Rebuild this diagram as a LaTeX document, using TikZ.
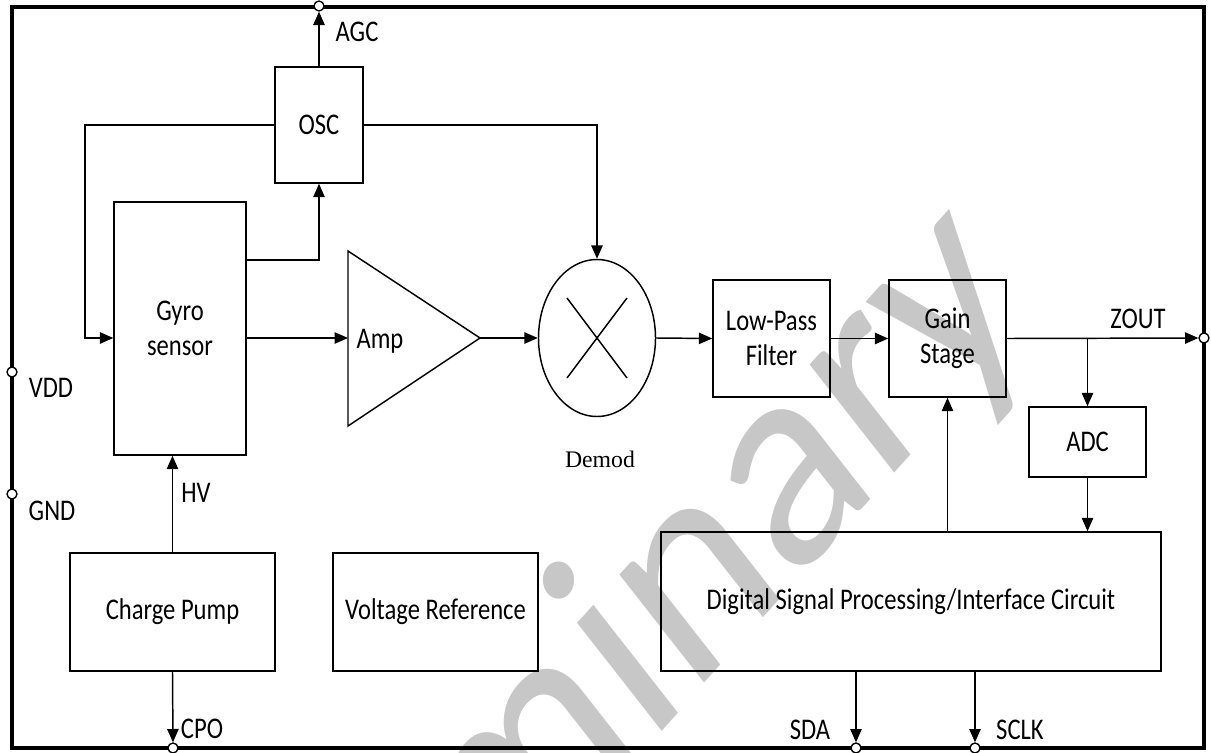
\documentclass[tikz,border=0pt]{standalone}
\usepackage{fontspec}
\setmainfont{Carlito}[FakeStretch=0.82]
\newfontfamily\wmfont{Carlito}
\newfontfamily\demodfont{Liberation Serif}
\usetikzlibrary{arrows.meta,shapes.geometric}
\begin{document}
\begin{tikzpicture}[x=0.75pt,y=-0.75pt,
  blk/.style={draw,line width=1.1pt,inner sep=0pt,align=center,
    font=\fontsize{22.5}{26.5}\selectfont},
  lbl/.style={inner sep=0pt,anchor=base,font=\fontsize{22.5}{26.5}\selectfont},
  wire/.style={line width=1.1pt},
  arr/.style={wire,-{Triangle[length=10pt,width=8.5pt]}},
  pin/.style={circle,draw,fill=white,line width=1pt,minimum size=7.5pt,inner sep=0pt},
]
\useasboundingbox (0,0) rectangle (1211,753);
% watermark
\begin{scope}
\clip (0,0) rectangle (1211,753);
\begin{scope}[xscale=0.84]
\node[transform shape,rotate=43,anchor=base west,inner sep=0pt,text=black!22,
  font=\wmfont\fontsize{232}{232}\selectfont] (wm) at (181.7,1296.6) {Preliminary};
\end{scope}
\end{scope}
% outer frame
\draw[line width=3.6pt] (12,7) rectangle (1204,748);
% blocks
\node[blk,minimum width=66pt,minimum height=87pt] (osc) at (319,125) {OSC};
\node[blk,minimum width=99pt,minimum height=189.75pt] (gyro) at (180,328.5) {Gyro\\sensor};
\node[blk,minimum width=87.75pt,minimum height=87.75pt] (lpf) at (771.5,338.5) {Low-Pass\\Filter};
\node[blk,minimum width=87.75pt,minimum height=87.75pt] (gain) at (947.5,338.5) {Gain\\Stage};
\node[blk,minimum width=87.75pt,minimum height=52.5pt] (adc) at (1087.5,442) {ADC};
\node[blk,minimum width=375pt,minimum height=104.25pt] (dsp) at (911,601.5) {Digital Signal Processing/Interface Circuit};
\node[blk,minimum width=153.75pt,minimum height=88.5pt] (cp) at (172.5,612) {Charge Pump};
\node[blk,minimum width=153.75pt,minimum height=88.5pt] (vr) at (435.5,612) {Voltage Reference};
% demodulator
\node[draw,ellipse,line width=1.1pt,minimum width=87.75pt,minimum height=117.75pt,inner sep=0pt] (dm) at (597,338) {};
\draw[wire] (567,298) -- (627,378) (627,298) -- (567,378);
\node[inner sep=0pt,anchor=base,font=\demodfont\fontsize{17.8}{20}\selectfont] (dml) at (600,467) {Demod};
% amplifier
\draw[wire] (348,251) -- (480,338) -- (348,426) -- cycle;
\coordinate (ampin) at (348,338);
\coordinate (ampout) at (480,338);
\node[lbl] (ampl) at (380,348) {Amp};
% pins
\node[pin] (pAGC) at (319,6) {};
\node[pin] (pVDD) at (12,372) {};
\node[pin] (pGND) at (12,494) {};
\node[pin] (pCPO) at (173,748) {};
\node[pin] (pSDA) at (856,748) {};
\node[pin] (pSCLK) at (975,748) {};
\node[pin] (pZOUT) at (1204,338) {};
% pin labels
\node[lbl] (tAGC) at (357,41.5) {AGC};
\node[lbl] (tVDD) at (51,397) {VDD};
\node[lbl] (tGND) at (52,520) {GND};
\node[lbl] (tHV) at (196,502) {HV};
\node[lbl] (tCPO) at (202,738) {CPO};
\node[lbl] (tZOUT) at (1138,328) {ZOUT};
\node[lbl] (tSDA) at (810,739) {SDA};
\node[lbl] (tSCLK) at (1020,739) {SCLK};
% connectors
\coordinate (fb) at (85,338);
\coordinate (br) at (1087.5,338);
\draw[arr] (osc.north) -- (pAGC.south);
\draw[arr] (osc.west) -| (fb) -- (fb -| gyro.west);
\draw[arr] (gyro.east |- 0,260) -| (osc.south);
\draw[arr] (gyro.east |- ampin) -- (ampin);
\draw[arr] (ampout) -- (dm.west);
\draw[arr] (osc.east) -| (dm.north);
\draw[arr] (dm.east) -- (lpf.west);
\draw[arr] (lpf.east) -- (gain.west);
\draw[arr] (gain.east) -- (pZOUT.west);
\draw[arr] (br) -- (adc.north);
\draw[arr] (adc.south) -- (adc.south |- dsp.north);
\draw[arr] (gain.south |- dsp.north) -- (gain.south);
\draw[arr] (dsp.south -| pSDA) -- (pSDA.north);
\draw[arr] (dsp.south -| pSCLK) -- (pSCLK.north);
\draw[arr] (cp.north) -- (cp.north |- gyro.south);
\draw[arr] (cp.south) -- (pCPO.north);
\end{tikzpicture}
\end{document}
